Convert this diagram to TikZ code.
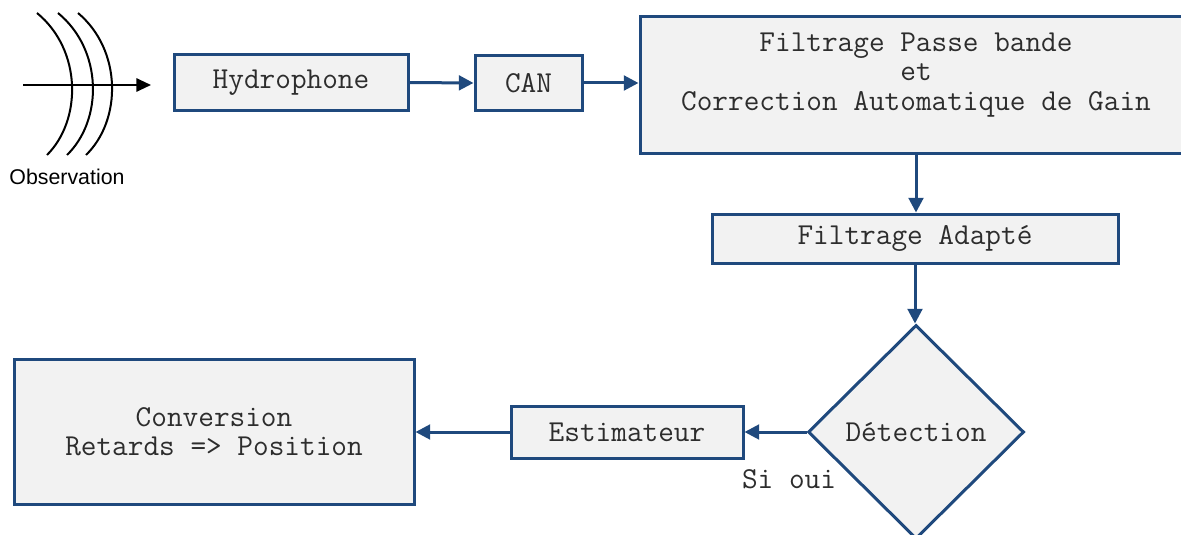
\documentclass[tikz,border=0pt]{standalone}
\usepackage{fontspec}
\setmainfont{Liberation Sans}
\usetikzlibrary{shapes.geometric,arrows.meta}
\definecolor{lineblue}{RGB}{31,73,125}
\definecolor{boxfill}{RGB}{242,242,242}
\definecolor{txt}{RGB}{45,45,45}
\begin{document}
\begin{tikzpicture}[x=0.75pt,y=-0.75pt,
  box/.style={draw=lineblue,line width=2.25pt,fill=boxfill,inner sep=0pt,
    text=txt,font=\ttfamily\fontsize{22.8}{22}\selectfont,align=center},
  conn/.style={draw=lineblue,line width=2.25pt,-{Triangle[length=11pt,width=11pt]}},
  wave/.style={draw=black,line width=1.5pt}]
\useasboundingbox (0,0) rectangle (1181,535);
% observation symbol
\coordinate (ain) at (23,85);
\coordinate (aout) at (151,85);
\draw[line width=1.5pt,-{Triangle[length=11pt,width=10pt]}] (ain) -- (aout);
\draw[wave] (37,13) .. controls (82,50) and (82,120) .. (47,155);
\draw[wave] (58,13) .. controls (103,50) and (103,120) .. (67,155);
\draw[wave] (78,13) .. controls (122,50) and (122,120) .. (86,155);
\node[font=\fontsize{16}{19}\selectfont,text=black] (obs) at (67,177) {Observation};
% boxes
\node[box,minimum width=175.5pt,minimum height=41.25pt] (hyd) at (291,82.5) {Hydrophone};
\node[box,minimum width=80.25pt,minimum height=40.5pt] (can) at (528.5,83) {CAN};
\node[box,minimum width=414pt,minimum height=102.75pt,text depth=20pt] (filt) at (916,85)
  {Filtrage Passe bande\\et\\Correction Automatique de Gain};
\node[box,minimum width=304.5pt,minimum height=36.75pt] (adap) at (915,238.5) {Filtrage Adapté};
\node[box,shape=diamond,aspect=1,minimum width=162pt,minimum height=160.5pt] (det) at (916,432) {Détection};
\node[box,minimum width=174pt,minimum height=39pt] (est) at (627,432) {Estimateur};
\node[box,minimum width=300pt,minimum height=108.75pt] (conv) at (214,431.5)
  {Conversion\\Retards => Position};
\node[text=txt,font=\ttfamily\fontsize{22.8}{22}\selectfont] (si) at (789,479) {Si oui};
% connectors
\draw[conn] (hyd.east) -- (can.west);
\draw[conn] (can.east) -- (can.east -| filt.west);
\draw[conn] (filt.south) -- (filt.south |- adap.north);
\draw[conn] (adap.south) -- (adap.south |- det.north);
\draw[conn] (det.west) -- (est.east);
\draw[conn] (est.west) -- (est.west -| conv.east);
\end{tikzpicture}
\end{document}
